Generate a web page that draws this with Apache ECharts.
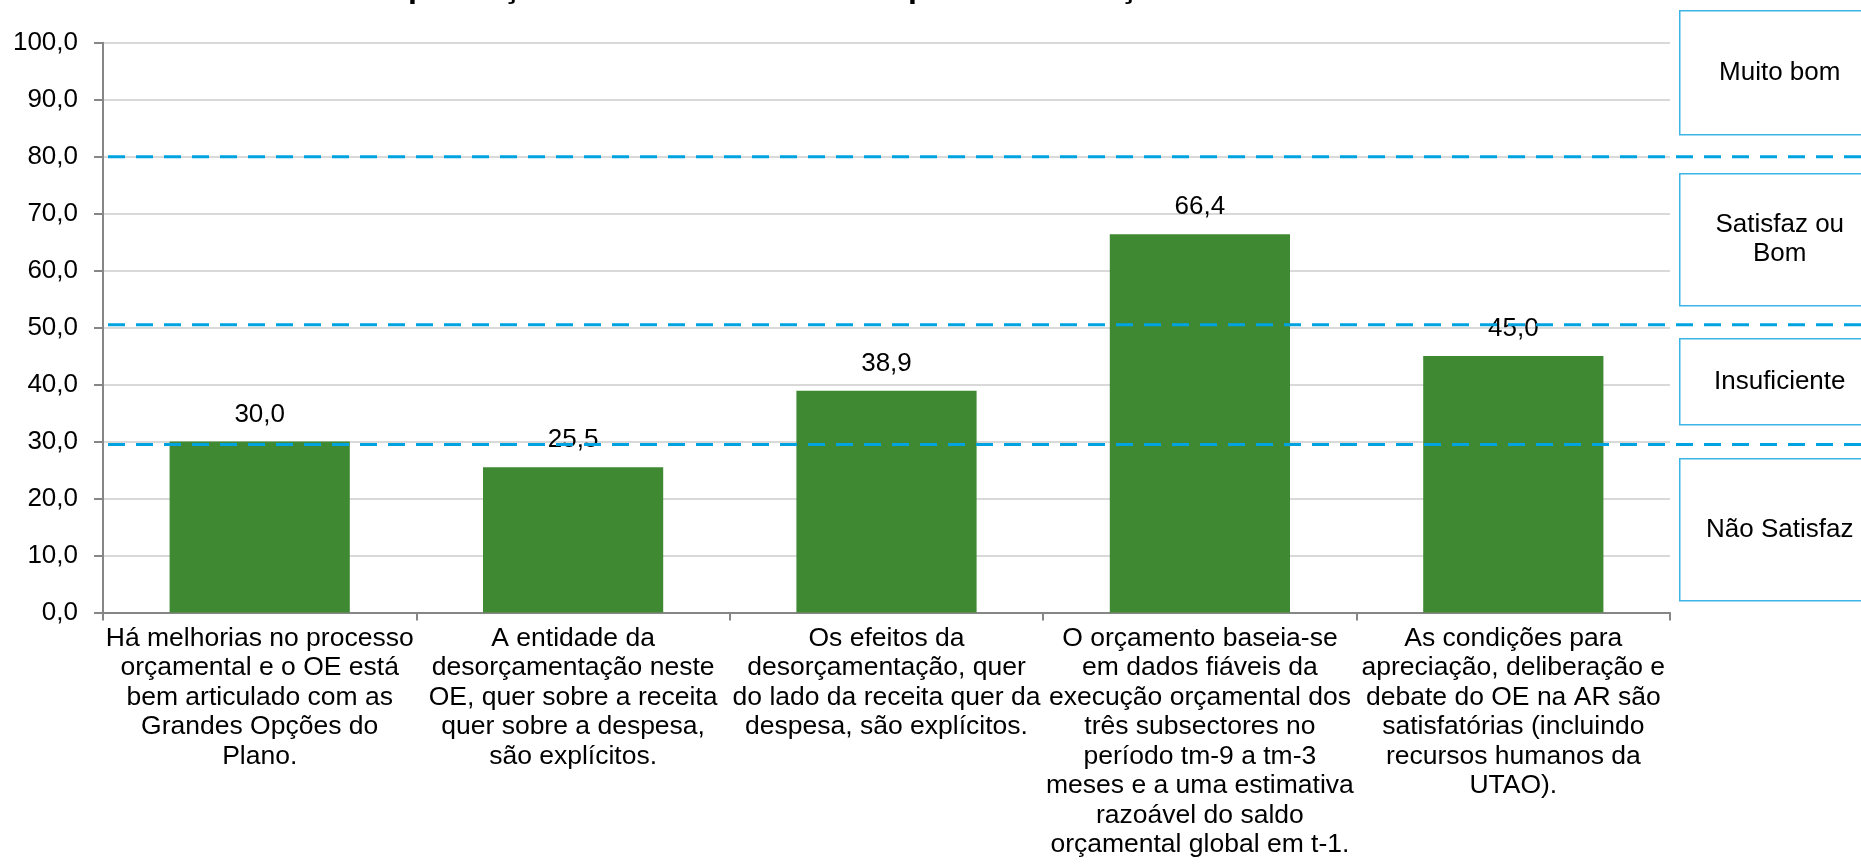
<!DOCTYPE html>
<html>
<head>
<meta charset="utf-8">
<script src="https://cdn.jsdelivr.net/npm/echarts@6/dist/echarts.min.js"></script>
<style>
    html, body { margin: 0; padding: 0; background: #fff; }
    #chart { width: 1861px; height: 864px; }
</style>
</head>
<body>
<div id="chart"></div>
<script>
// Chart data
const titleText = 'Apreciação média do OE em cada pilar da avaliação';
const categories = [
    'Há melhorias no processo\norçamental e o OE está\nbem articulado com as\nGrandes Opções do\nPlano.',
    'A entidade da\ndesorçamentação neste\nOE, quer sobre a receita\nquer sobre a despesa,\nsão explícitos.',
    'Os efeitos da\ndesorçamentação, quer\ndo lado da receita quer da\ndespesa, são explícitos.',
    'O orçamento baseia-se\nem dados fiáveis da\nexecução orçamental dos\ntrês subsectores no\nperíodo tm-9 a tm-3\nmeses e a uma estimativa\nrazoável do saldo\norçamental global em t-1.',
    'As condições para\napreciação, deliberação e\ndebate do OE na AR são\nsatisfatórias (incluindo\nrecursos humanos da\nUTAO).'
];
const scores = [30.0, 25.5, 38.9, 66.4, 45.0];
const thresholds = [80, 50.5, 29.5];
const zoneLabels = ['Muito bom', 'Satisfaz ou\nBom', 'Insuficiente', 'Não Satisfaz'];

const FONT = "'Liberation Sans', Arial, sans-serif";
const LINE_BLUE = '#00A3E0';
const BOX_BLUE = '#3CB4E6';

const chart = echarts.init(document.getElementById('chart'));

// Dashed threshold lines, drawn on a second grid so they run to the right edge
const thresholdSeries = thresholds.map(function (v) {
    return {
        type: 'line',
        xAxisIndex: 1,
        yAxisIndex: 1,
        data: [[0, v], [1, v]],
        symbol: 'none',
        silent: true,
        z: 10,
        lineStyle: { color: LINE_BLUE, width: 3, type: [17, 11] }
    };
});

// Rating boxes on the right (positions in pixels, like a text box on a slide)
const boxTops = [10, 173, 338, 458];
const boxHeights = [124, 132, 86, 142];
const boxes = zoneLabels.map(function (label, i) {
    return {
        type: 'group',
        left: 1679,
        top: boxTops[i],
        children: [
            {
                type: 'rect',
                shape: { x: 0, y: 0, width: 200, height: boxHeights[i] },
                style: { fill: '#fff', stroke: BOX_BLUE, lineWidth: 1.5 }
            },
            {
                type: 'text',
                x: 100,
                y: boxHeights[i] / 2,
                style: {
                    text: label,
                    font: '26px ' + FONT,
                    fill: '#000',
                    align: 'center',
                    verticalAlign: 'middle',
                    lineHeight: 29
                }
            }
        ]
    };
});

const option = {
    animation: false,
    backgroundColor: '#fff',
    textStyle: { fontFamily: FONT },
    title: {
        text: titleText,
        left: 385,
        top: -28,
        padding: 0,
        textStyle: { fontSize: 32, fontWeight: 'bold', color: '#000', fontFamily: FONT }
    },
    grid: [
        { left: 103, right: 191, top: 42.7, bottom: 251.5 },
        { left: 108, right: 0, top: 42.7, bottom: 251.5 }
    ],
    xAxis: [
        {
            type: 'category',
            data: categories,
            gridIndex: 0,
            axisLine: { lineStyle: { color: '#868686', width: 2 } },
            axisTick: { show: true, length: 8, lineStyle: { color: '#868686', width: 2 } },
            axisLabel: {
                interval: 0,
                margin: 11,
                color: '#000',
                fontSize: 26.5,
                lineHeight: 29.5,
                fontFamily: FONT
            }
        },
        { type: 'value', gridIndex: 1, min: 0, max: 1, show: false }
    ],
    yAxis: [
        {
            type: 'value',
            gridIndex: 0,
            min: 0,
            max: 100,
            interval: 10,
            axisLine: { show: true, lineStyle: { color: '#868686', width: 2 } },
            axisTick: { show: true, length: 9, lineStyle: { color: '#868686', width: 2 } },
            splitLine: { lineStyle: { color: '#D9D9D9', width: 2 } },
            axisLabel: {
                color: '#000',
                fontSize: 26,
                margin: 25,
                fontFamily: FONT,
                formatter: function (v) { return v.toFixed(1).replace('.', ','); }
            }
        },
        { type: 'value', gridIndex: 1, min: 0, max: 100, show: false }
    ],
    series: [
        {
            type: 'bar',
            data: scores,
            barCategoryGap: '42.5%',
            itemStyle: { color: '#3E8932' },
            label: {
                show: true,
                position: 'top',
                distance: 14,
                color: '#000',
                fontSize: 26,
                fontFamily: FONT,
                formatter: function (p) { return p.value.toFixed(1).replace('.', ','); }
            }
        }
    ].concat(thresholdSeries),
    graphic: boxes
};

chart.setOption(option);
</script>
</body>
</html>
